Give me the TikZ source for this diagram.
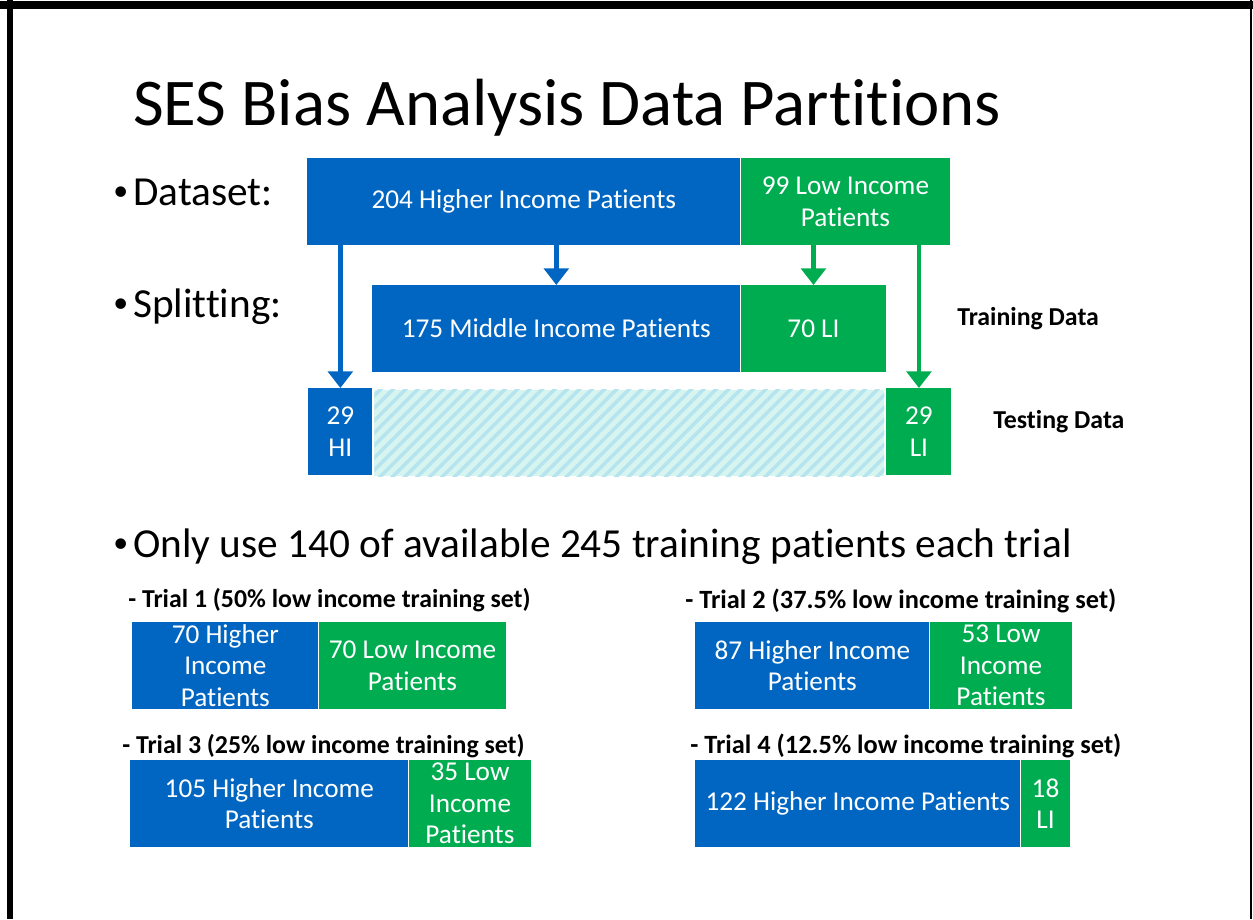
\documentclass[tikz,border=0pt]{standalone}
\usepackage{fontspec}
\setmainfont{Carlito}[Ligatures=NoCommon]
\usetikzlibrary{arrows.meta,patterns.meta}
\definecolor{hiblue}{RGB}{0,102,194}
\definecolor{logreen}{RGB}{0,172,80}
\definecolor{hatchbg}{RGB}{214,244,240}
\definecolor{hatchln}{RGB}{182,228,238}
\newcommand{\dotmark}{\makebox[0.4cm][l]{\raisebox{0.12em}{\fontsize{17}{17}\selectfont•}}}

\begin{document}
\begin{tikzpicture}[x=0.02cm,y=-0.02cm,
    bar/.style={anchor=north west,inner sep=0pt,text=white,align=center,
      font=\fontsize{15.5}{18}\selectfont,minimum height=1.73cm},
    hi/.style={bar,fill=hiblue},
    lo/.style={bar,fill=logreen},
    bullet/.style={anchor=base west,inner sep=0pt,font=\fontsize{23.5}{28}\selectfont},
    side/.style={anchor=base west,inner sep=0pt,font=\bfseries\fontsize{14.7}{18}\selectfont},
    arr/.style={line width=2.8pt,-{Triangle[width=14pt,length=9.5pt]}}]
  \useasboundingbox (0,0) rectangle (1253,919);
  % frame
  \draw[line width=0.16cm] (0,5) -- (1253,5);
  \draw[line width=0.12cm] (10,0) -- (10,919);
  \draw[line width=1.5pt] (1251,0) -- (1251,919);

  \node[anchor=base west,inner sep=0pt,font=\fontsize{38}{44}\selectfont] (title) at (133,125) {SES Bias Analysis Data Partitions};

  \node[bullet] (ds) at (113,205) {\dotmark Dataset:};
  \node[bullet] (sp) at (113,317) {\dotmark Splitting:};
  \node[bullet] (only) at (113,557) {\dotmark Only use 140 of available 245 training patients each trial};

  % dataset
  \node[hi,minimum width=8.66cm] (hi) at (307,158) {204 Higher Income Patients};
  \node[lo,minimum width=4.18cm] (lo) at (hi.north east) {99 Low Income\\Patients};
  % training
  \node[hi,minimum width=7.36cm] (mhi) at (372,285) {175 Middle Income Patients};
  \node[lo,minimum width=2.9cm] (mli) at (mhi.north east) {70 LI};
  \node[side] (train) at (957,325) {Training Data};
  % testing
  \node[hi,minimum width=1.28cm] (thi) at (308,388) {29\\HI};
  \node[bar,minimum width=10.2cm,preaction={fill=hatchbg},
    pattern={Lines[angle=45,distance=5pt,line width=2pt]},pattern color=hatchln] (gap) at (thi.north east) {};
  \node[lo,minimum width=1.3cm] (tli) at (gap.north east) {29\\LI};
  \node[side] (test) at (993,428) {Testing Data};

  \draw[arr,hiblue] (hi.south -| thi.north) -- (thi.north);
  \draw[arr,hiblue] (hi.south -| mhi.north) -- (mhi.north);
  \draw[arr,logreen] (lo.south -| mli.north) -- (mli.north);
  \draw[arr,logreen] (lo.south -| tli.north) -- (tli.north);

  % trials
  \node[side] (c1) at (128,607) {- Trial 1 (50\% low income training set)};
  \node[hi,minimum width=3.72cm] (t1h) at (132,622) {70 Higher\\Income\\Patients};
  \node[lo,minimum width=3.74cm] (t1l) at (t1h.north east) {70 Low Income\\Patients};

  \node[side,font=\bfseries\fontsize{15}{18}\selectfont] (c2) at (685,608) {- Trial 2 (37.5\% low income training set)};
  \node[hi,minimum width=4.68cm] (t2h) at (695,622) {87 Higher Income\\Patients};
  \node[lo,minimum width=2.84cm] (t2l) at (t2h.north east) {53 Low\\Income\\Patients};

  \node[side] (c3) at (122,753) {- Trial 3 (25\% low income training set)};
  \node[hi,minimum width=5.56cm] (t3h) at (130,760) {105 Higher Income\\Patients};
  \node[lo,minimum width=2.44cm] (t3l) at (t3h.north east) {35 Low\\Income\\Patients};

  \node[side,font=\bfseries\fontsize{15}{18}\selectfont] (c4) at (690,753) {- Trial 4 (12.5\% low income training set)};
  \node[hi,minimum width=6.5cm] (t4h) at (695,760) {122 Higher Income Patients};
  \node[lo,minimum width=0.98cm] (t4l) at (t4h.north east) {18\\LI};
\end{tikzpicture}
\end{document}
